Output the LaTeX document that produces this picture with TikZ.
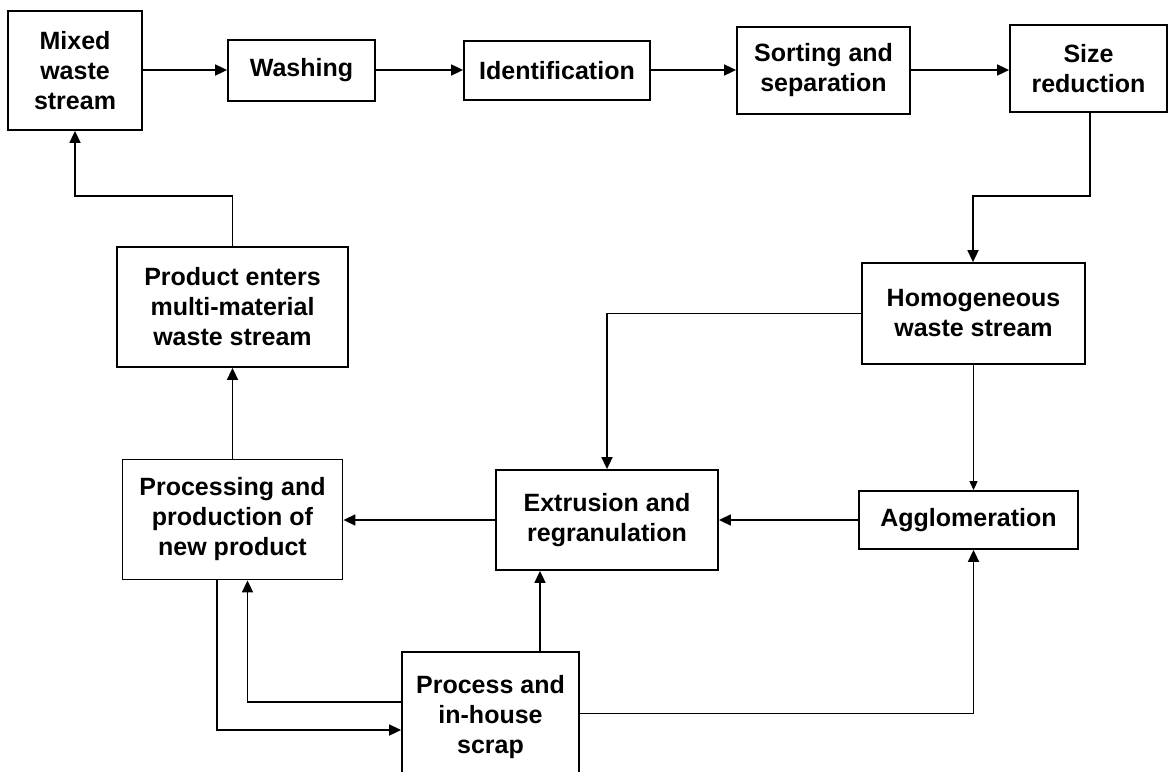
\documentclass[tikz,border=0pt]{standalone}
\usepackage{fontspec}
\setmainfont{Liberation Sans}
\usetikzlibrary{arrows.meta}
\begin{document}
\begin{tikzpicture}[x=0.5pt,y=-0.5pt,
  box/.style={draw, line width=0.9pt, align=center, inner sep=0pt,
    font=\fontsize{12.5}{15}\selectfont\bfseries},
  conn/.style={line width=0.85pt, -{Triangle[length=6pt,width=5.5pt]}},
  thinconn/.style={line width=0.55pt, -{Triangle[length=4.5pt,width=4pt]}}]
\useasboundingbox (0,0) rectangle (1170,771);
\clip (0,0) rectangle (1170,771);
\node[box, minimum width=67pt, minimum height=59.5pt] (mix) at (75,70.5) {Mixed\\waste\\stream};
\node[box, minimum width=73.5pt, minimum height=30.5pt] (wash) at (301.5,70.5) {Washing};
\node[box, minimum width=93pt, minimum height=29.5pt] (ident) at (557,70.5) {Identification};
\node[box, minimum width=86.5pt, minimum height=43.5pt] (sort) at (823.5,70.5) {Sorting and\\separation};
\node[box, minimum width=78.5pt, minimum height=43.5pt] (size) at (1088.5,68.5) {Size\\reduction};
\node[box, minimum width=111.5pt, minimum height=50.5pt] (homog) at (973.5,313.5) {Homogeneous\\waste stream};
\node[box, minimum width=115.5pt, minimum height=60pt] (prod) at (232.5,307) {Product enters\\multi-material\\waste stream};
\node[box, minimum width=110pt, minimum height=60pt] (proc) at (232.5,519.5) {Processing and\\production of\\new product};
\node[box, minimum width=111pt, minimum height=50pt] (extr) at (607,520) {Extrusion and\\regranulation};
\node[box, minimum width=109.5pt, minimum height=29pt] (aggl) at (968.5,520) {Agglomeration};
\node[box, minimum width=88.5pt, minimum height=62pt, text depth=0pt] (scrap) at (490.5,714) {Process and\\in-house\\scrap};

\coordinate (c1) at (1090,196);
\coordinate (c2) at (973,196);
\coordinate (c3) at (607,313.5);
\coordinate (c4) at (75,196);
\coordinate (c5) at (217,730);
\coordinate (c6) at (247.5,702);
\coordinate (c7) at (973.5,713.5);
\coordinate (c8) at (540,0);
\coordinate (row) at (0,70);
\coordinate (mid) at (0,520);

\draw[conn] (mix.east |- row) -- (wash.west |- row);
\draw[conn] (wash.east |- row) -- (ident.west |- row);
\draw[conn] (ident.east |- row) -- (sort.west |- row);
\draw[conn] (sort.east |- row) -- (size.west |- row);
\draw[conn] (size.south -| c1) -- (c1) -- (c2) -- (c2 |- homog.north);
\draw[conn] (homog.west |- c3) -- (c3) -- (extr.north -| c3);
\draw[thinconn] (homog.south) -- (aggl.north -| homog.south);
\draw[conn] (aggl.west |- mid) -- (extr.east |- mid);
\draw[conn] (extr.west |- mid) -- (proc.east |- mid);
\draw[conn] (proc.north) -- (prod.south);
\draw[conn] (prod.north) |- (c4) -- (mix.south);
\draw[conn] (proc.south -| c5) -- (c5) -- (scrap.west |- c5);
\draw[conn] (scrap.west |- c6) -- (c6) -- (proc.south -| c6);
\draw[conn] (scrap.north -| c8) -- (extr.south -| c8);
\draw[conn] (scrap.east |- c7) -- (c7) -- (aggl.south -| c7);
\end{tikzpicture}
\end{document}
